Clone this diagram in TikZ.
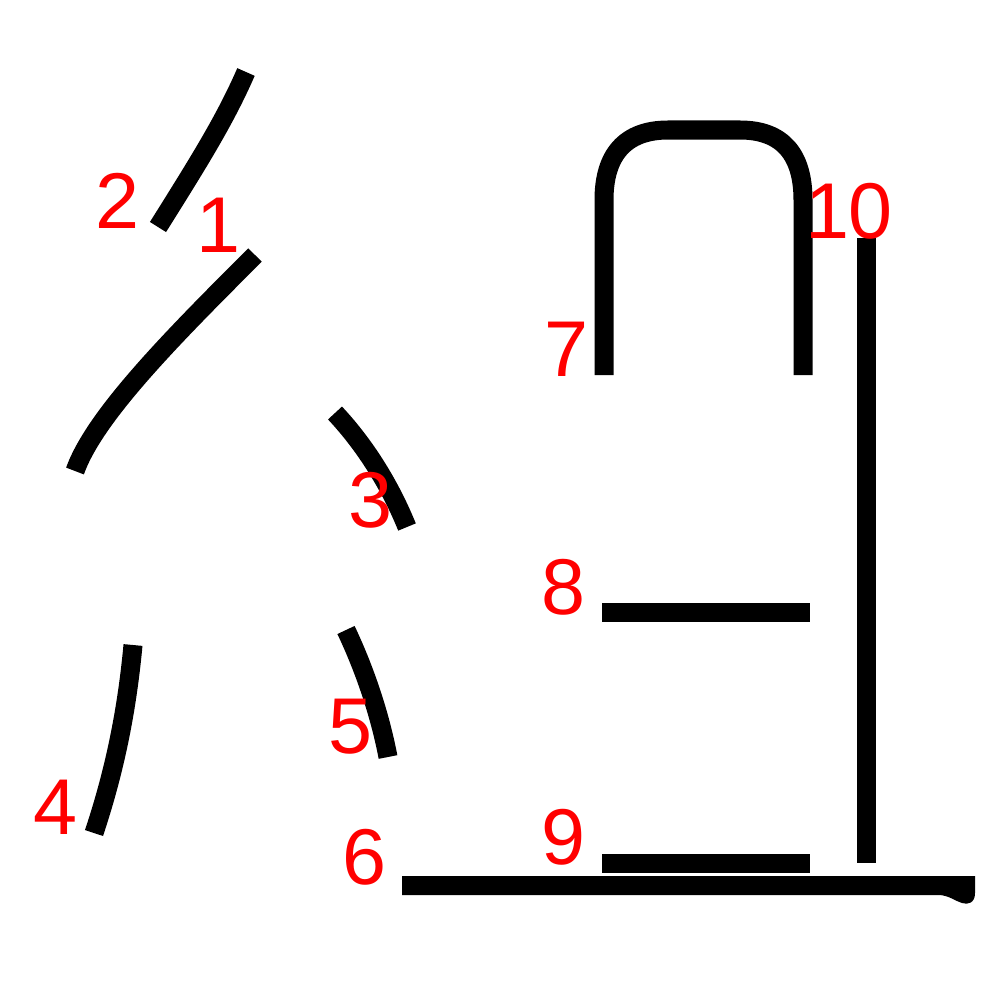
\documentclass[tikz,border=0pt]{standalone}
\usepackage{fontspec}
\setmainfont{Liberation Sans}
\begin{document}
\begin{tikzpicture}[x=0.01cm,y=-0.01cm,
  stroke/.style={line width=0.19cm,line cap=butt,draw=black},
  num/.style={text=red,anchor=base,inner sep=0pt,font=\fontsize{22.5}{27}\selectfont}]
\useasboundingbox (0,0) rectangle (1000,1000);
% strokes
\draw[stroke] (255,255) .. controls (175,335) and (95,415) .. (75,471);
\draw[stroke] (246,72) .. controls (225,120) and (200,160) .. (158,227);
\draw[stroke] (335,413) .. controls (365,445) and (390,485) .. (407,527);
\draw[stroke] (133,645) .. controls (127,710) and (115,770) .. (94,833);
\draw[stroke] (346,630) .. controls (365,670) and (380,715) .. (388,757);
\fill[black] (402,876) -- (975,876) -- (975,893) .. controls (975,903) and (968,905) .. (962,903) .. controls (955,901) and (950,896) .. (940,895) -- (402,895) -- cycle;
\draw[stroke] (604,375) -- (604,200) .. controls (604,155) and (625,130) .. (668,130) -- (740,130) .. controls (783,130) and (803,155) .. (803,200) -- (803,375);
\draw[stroke] (602,612) -- (810,612);
\draw[stroke] (602,863) -- (810,863);
\draw[stroke] (866,238) -- (866,863);
% labels
\node[num] (n1) at (219,252) {1};
\node[num] (n2) at (118,228) {2};
\node[num] (n3) at (370,527) {3};
\node[num] (n4) at (56,834) {4};
\node[num] (n5) at (350,753) {5};
\node[num] (n6) at (364,884) {6};
\node[num] (n7) at (566,376) {7};
\node[num] (n8) at (563,614) {8};
\node[num] (n9) at (563,864) {9};
\node[num] (n10) at (849,238) {10};
\end{tikzpicture}
\end{document}
